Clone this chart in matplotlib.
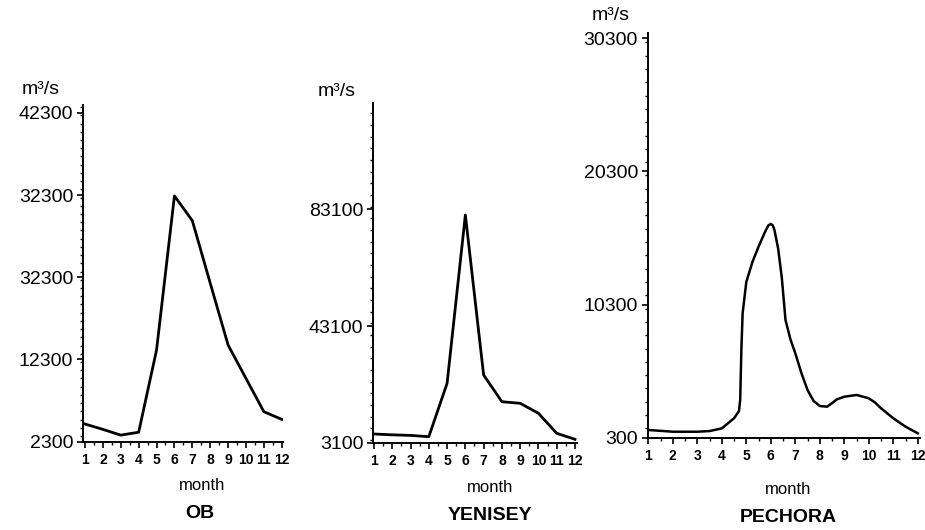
import matplotlib.pyplot as plt
from matplotlib.ticker import MultipleLocator, FixedLocator

plt.rcParams['font.family'] = ['Liberation Sans', 'DejaVu Sans']

W, H = 925, 530

months = list(range(1, 13))

ob_flow = [4450, 3800, 3100, 3450, 13450, 32200, 29190, 21600, 14060, 10000, 5950, 5020]
ob_ticks = [2300, 12300, 22300, 32300, 42300]
ob_labels = ["2300", "12300", "32300", "32300", "42300"]

yenisey_flow = [6080, 5800, 5600, 5160, 23460, 81150, 26300, 17150, 16600, 13180, 6320, 4260]
yenisey_ticks = [3100, 43100, 83100]
yenisey_labels = ["3100", "43100", "83100"]

pechora_x = [1, 2, 3, 3.5, 4, 4.5, 4.7, 4.75, 4.8, 4.85, 5, 5.25, 5.5, 5.75, 5.9, 6, 6.08,
             6.15, 6.3, 6.45, 6.6, 6.8, 7, 7.25, 7.5, 7.75, 8, 8.3, 8.5, 8.7, 9, 9.5, 10,
             10.25, 10.5, 11, 11.5, 12]
pechora_flow = [880, 750, 750, 800, 1000, 1760, 2300, 3130, 7000, 9650, 12000, 13500, 14650,
                15700, 16250, 16360, 16250, 15900, 14500, 12300, 9140, 7700, 6640, 5150, 3880,
                3050, 2680, 2630, 2900, 3180, 3380, 3510, 3260, 2950, 2510, 1760, 1130, 630]
pechora_ticks = [300, 10300, 20300, 30300]
pechora_labels = ["300", "10300", "20300", "30300"]


def px_axes(fig, left, right, top, bottom):
    return fig.add_axes([left / W, 1 - bottom / H, (right - left) / W, (bottom - top) / H])


def style_axes(ax, xlim, ylim, yticks, ylabels, yminor):
    ax.set_xlim(*xlim)
    ax.set_ylim(*ylim)
    for side in ("top", "right"):
        ax.spines[side].set_visible(False)
    for side in ("left", "bottom"):
        ax.spines[side].set_linewidth(1.4)
    ax.set_xticks(months)
    ax.set_xticklabels([str(m) for m in months], fontsize=10, fontweight="bold")
    ax.xaxis.set_minor_locator(MultipleLocator(0.5))
    ax.yaxis.set_major_locator(FixedLocator(yticks))
    ax.set_yticklabels(ylabels, fontsize=14)
    ax.yaxis.set_minor_locator(MultipleLocator(yminor))
    ax.tick_params(axis="both", which="major", direction="out", length=4, width=1.2, pad=3)
    ax.tick_params(axis="both", which="minor", direction="out", length=2.5, width=1.0)
    ax.tick_params(axis="x", which="major", pad=4)
    ax.patch.set_alpha(0)


def fig_text(fig, x, y, s, **kw):
    fig.text(x / W, 1 - y / H, s, ha="center", va="center", **kw)


fig = plt.figure(figsize=(W / 100, H / 100), dpi=100)

ax1 = px_axes(fig, 83, 283, 105, 441.7)
ax1.plot(months, ob_flow, color="black", lw=2.0)
style_axes(ax1, (0.888, 12.07), (2300, 43260), ob_ticks, ob_labels, 1000)

ax2 = px_axes(fig, 373, 577, 103, 442.7)
ax2.plot(months, yenisey_flow, color="black", lw=2.0)
style_axes(ax2, (0.945, 12.11), (3100, 119540), yenisey_ticks, yenisey_labels, 4000)

ax3 = px_axes(fig, 647.7, 920, 33, 437.7)
ax3.plot(pechora_x, pechora_flow, color="black", lw=1.8)
style_axes(ax3, (0.975, 12.09), (300, 30700), pechora_ticks, pechora_labels, 1000)

fig_text(fig, 41, 90, "m³/s", fontsize=14)
fig_text(fig, 337, 92, "m³/s", fontsize=14)
fig_text(fig, 611, 16, "m³/s", fontsize=14)

fig_text(fig, 202, 486, "month", fontsize=12)
fig_text(fig, 490, 487, "month", fontsize=12)
fig_text(fig, 788, 490, "month", fontsize=12)

fig_text(fig, 200, 513, "OB", fontsize=14, fontweight="bold")
fig_text(fig, 490, 515, "YENISEY", fontsize=14, fontweight="bold")
fig_text(fig, 788, 518, "PECHORA", fontsize=14, fontweight="bold")

fig.savefig("out.png", dpi=100)
